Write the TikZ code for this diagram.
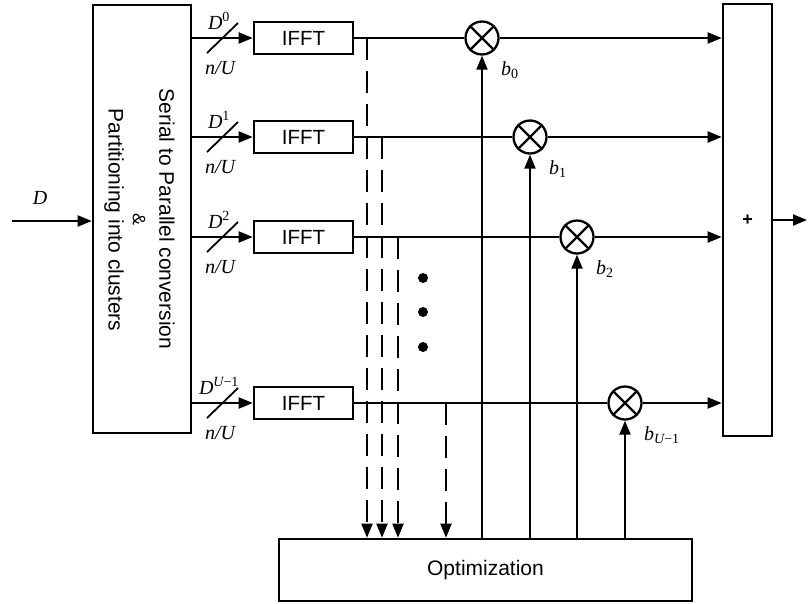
\documentclass[tikz,border=0pt]{standalone}
\usepackage{fontspec}
\setmainfont{Liberation Serif}
\newfontfamily\sansf{Liberation Sans}
\usetikzlibrary{arrows.meta}
\begin{document}
\begin{tikzpicture}[x=1pt,y=-1pt,
  blk/.style={draw,line width=2.6pt,rectangle,inner sep=0pt},
  ln/.style={line width=2pt},
  arr/.style={ln,-{Triangle[length=14pt,width=11pt]}},
  darr/.style={arr,dash pattern=on 22pt off 11pt},
  mult/.style={draw,circle,line width=2.3pt,minimum size=33pt,inner sep=0pt},
  lbl/.style={inner sep=0pt,font=\fontsize{20}{23}\selectfont},
  sf/.style={font=\sansf\fontsize{21}{24}\selectfont},
  dotn/.style={circle,fill,minimum size=10pt,inner sep=0pt}
]
\useasboundingbox (0,0) rectangle (808,603);
% serial to parallel block
\node[blk,minimum width=98pt,minimum height=428pt] (sp) at (142,219) {};
\node[sf,rotate=-90] (t1) at (167,219) {Serial to Parallel conversion};
\node[font=\sansf\fontsize{18}{20}\selectfont,rotate=-90] (t2) at (139,219) {\&};
\node[sf,rotate=-90] (t3) at (114,220) {Partitioning into clusters};
% sum block
\node[blk,minimum width=49pt,minimum height=432pt,font=\sansf\bfseries\fontsize{18}{22}\selectfont] (sum) at (747.5,220) {+};
% optimization block
\node[blk,minimum width=413pt,minimum height=62pt,sf] (opt) at (485.5,570) {Optimization};
% input / output
\coordinate (in) at (12,221);
\node[lbl] (dlab) at (40,198) {\itshape D};
\draw[arr] (in) -- (in -| sp.west);
\coordinate (out) at (807,220);
\draw[arr] (sum.east |- out) -- (out);
% branches
\foreach \i/\y/\s/\mx in {0/38/0/482, 1/137/1/530, 2/237/2/577, 3/403/{\itshape U\upshape −1}/625}{
  \node[blk,minimum width=99pt,minimum height=32pt,font=\sansf\fontsize{20.5}{24}\selectfont] (f\i) at (303.5,\y) {IFFT};
  \draw[arr] (sp.east |- f\i.west) -- (f\i.west);
  \coordinate (s\i) at (222,\y);
  \draw[line width=1.8pt] ([shift={(-15,15)}]s\i) -- ([shift={(16,-15)}]s\i);
  \node[lbl] (dl\i) at (219,\y-17) {\itshape D\upshape\textsuperscript{\s}};
  \node[lbl] (nl\i) at (220,\y+30) {\itshape n/U};
  \node[mult] (m\i) at (\mx,\y) {};
  \draw[line width=2.3pt] (m\i.north west) -- (m\i.south east) (m\i.north east) -- (m\i.south west);
  \draw[ln] (f\i.east) -- (m\i.west);
  \draw[arr] (m\i.east) -- (m\i -| sum.west);
  \draw[arr] (m\i |- opt.north) -- (m\i.south);
  \node[lbl,anchor=west] (bl\i) at ([shift={(19,32)}]m\i.center) {\itshape b\upshape\textsubscript{\s}};
}
% dashed taps
\foreach \i/\x/\y in {0/367/38, 1/382/137, 2/398/237, 3/446/403}{
  \coordinate (d\i) at (\x,\y);
  \draw[darr] (d\i) -- (d\i |- opt.north);
}
% dots
\node[dotn] (p1) at (423,278) {};
\node[dotn] (p2) at (423,312) {};
\node[dotn] (p3) at (423,347) {};
\end{tikzpicture}
\end{document}
